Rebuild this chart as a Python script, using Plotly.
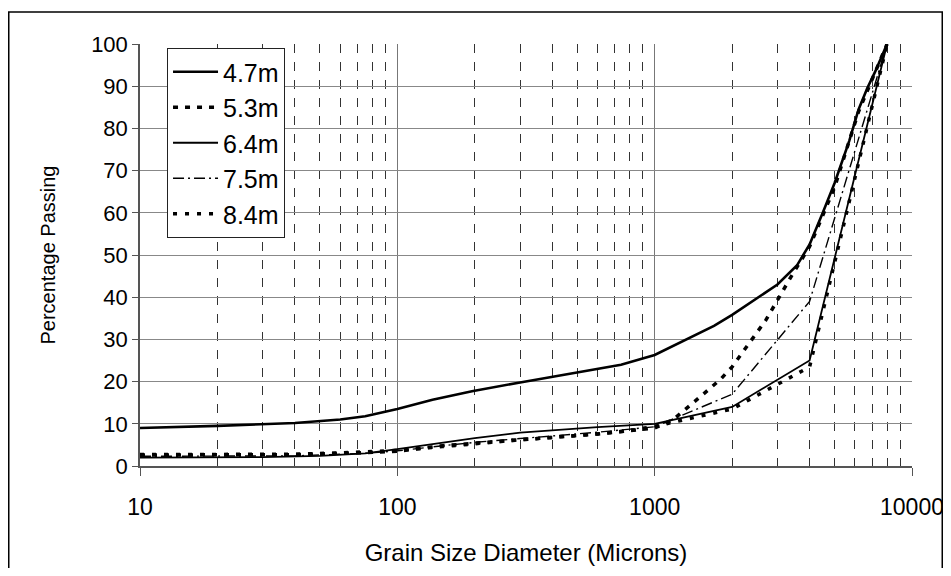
import plotly.graph_objects as go

# ---- data ----
series_names = ["4.7m", "5.3m", "6.4m", "7.5m", "8.4m"]

sizes_47 = [10, 20, 40, 60, 75, 85, 100, 137, 195, 300, 490, 740, 1000, 1310, 1700,
            2000, 3000, 3570, 4000, 4500, 5000, 5700, 6200, 6700, 7200, 8000]
pass_47 = [9.0, 9.5, 10.2, 11.0, 11.8, 12.5, 13.5, 15.7, 17.7, 19.8, 22.1, 24.0, 26.3, 29.8, 33.2,
           35.8, 43.0, 47.5, 52.5, 60.0, 67.0, 77.0, 84.5, 89.5, 93.5, 100.0]

sizes_53 = [10, 40, 75, 100, 150, 300, 600, 1000, 1180, 1400, 1800, 2000, 2700, 3400, 4000,
            5000, 6200, 8000]
pass_53 = [2.6, 2.7, 3.2, 3.5, 4.8, 6.3, 7.6, 9.0, 11.0, 14.8, 20.5, 23.5, 34.5, 45.0, 52.0,
           66.0, 84.0, 100.0]

sizes_64 = [10, 30, 50, 75, 100, 150, 200, 300, 425, 600, 1000, 2000, 4000, 8000]
pass_64 = [2.0, 2.1, 2.4, 3.0, 4.0, 5.5, 6.6, 7.9, 8.6, 9.2, 10.0, 14.0, 25.0, 100.0]

sizes_75 = [10, 40, 75, 100, 150, 200, 300, 600, 1000, 2000, 4000, 8000]
pass_75 = [2.3, 2.4, 3.0, 3.6, 4.8, 5.6, 6.5, 8.0, 9.3, 17.0, 39.0, 100.0]

sizes_84 = [10, 40, 60, 75, 100, 150, 200, 300, 425, 600, 800, 1000, 2000, 4000, 8000]
pass_84 = [2.7, 2.8, 3.1, 3.3, 3.7, 4.6, 5.3, 6.2, 6.9, 7.6, 8.4, 9.4, 13.5, 23.5, 100.0]

x_tick_vals = [10, 100, 1000, 10000]
x_tick_text = ["10", "100", "1000", "10000"]
x_minor_vals = [20, 30, 40, 50, 60, 70, 80, 90,
                200, 300, 400, 500, 600, 700, 800, 900,
                2000, 3000, 4000, 5000, 6000, 7000, 8000, 9000]
y_tick_vals = [0, 10, 20, 30, 40, 50, 60, 70, 80, 90, 100]

sizes = [sizes_47, sizes_53, sizes_64, sizes_75, sizes_84]
passing = [pass_47, pass_53, pass_64, pass_75, pass_84]

line_styles = [
    dict(width=2.6, dash="solid"),
    dict(width=3.5, dash="5px,7px"),
    dict(width=1.8, dash="solid"),
    dict(width=1.4, dash="11px,4px,2px,4px"),
    dict(width=3.5, dash="4px,8px"),
]

fig = go.Figure()
for name, xs, ys, st in zip(series_names, sizes, passing, line_styles):
    fig.add_trace(go.Scatter(
        x=xs, y=ys, mode="lines", name=name, cliponaxis=False,
        line=dict(color="black", width=st["width"], dash=st["dash"]),
    ))

font_family = "Liberation Sans, Arial, sans-serif"

# the page body adds an 8px margin, so the figure is sized to fit the 951x576 window
fig.update_layout(
    width=935, height=560,
    margin=dict(l=132, r=31, t=36, b=102),
    plot_bgcolor="white", paper_bgcolor="white",
    font=dict(family=font_family, size=22, color="black"),
    showlegend=True,
    legend=dict(
        x=0.035, y=0.9905, xanchor="left", yanchor="top",
        bgcolor="white", bordercolor="#222", borderwidth=1,
        font=dict(size=25, family=font_family, color="black"),
        itemwidth=45,
    ),
    shapes=[dict(
        type="rect", xref="paper", yref="paper",
        x0=-0.170, x1=1.0392, y0=-0.27, y1=1.0758,
        line=dict(color="black", width=1.5), fillcolor="rgba(0,0,0,0)",
        layer="below",
    )],
)

fig.update_xaxes(
    type="log", range=[1, 4], automargin=False,
    tickmode="array", tickvals=x_tick_vals, ticktext=x_tick_text,
    tickfont=dict(size=23, family=font_family),
    ticklabeloverflow="allow",
    showgrid=True, gridcolor="#777", gridwidth=1,
    ticks="outside", ticklen=8, tickcolor="#555", tickwidth=1,
    showline=True, linecolor="#555", linewidth=1.5,
    zeroline=False,
    ticklabelstandoff=12,
    minor=dict(tickmode="array", tickvals=x_minor_vals, showgrid=True,
               griddash="dash", gridcolor="#333", gridwidth=1, ticks=""),
    title=dict(text="Grain Size Diameter (Microns)", standoff=25,
               font=dict(size=24, family=font_family)),
)

fig.update_yaxes(
    range=[0, 100], automargin=False,
    tickmode="array", tickvals=y_tick_vals,
    tickfont=dict(size=22, family=font_family),
    showgrid=True, gridcolor="#888", gridwidth=1,
    ticks="outside", ticklen=6, tickcolor="#555",
    showline=True, linecolor="#555", linewidth=1.5,
    zeroline=False,
    title=dict(text="Percentage Passing", standoff=30,
               font=dict(size=20, family=font_family)),
)

fig.write_html("out.html")
